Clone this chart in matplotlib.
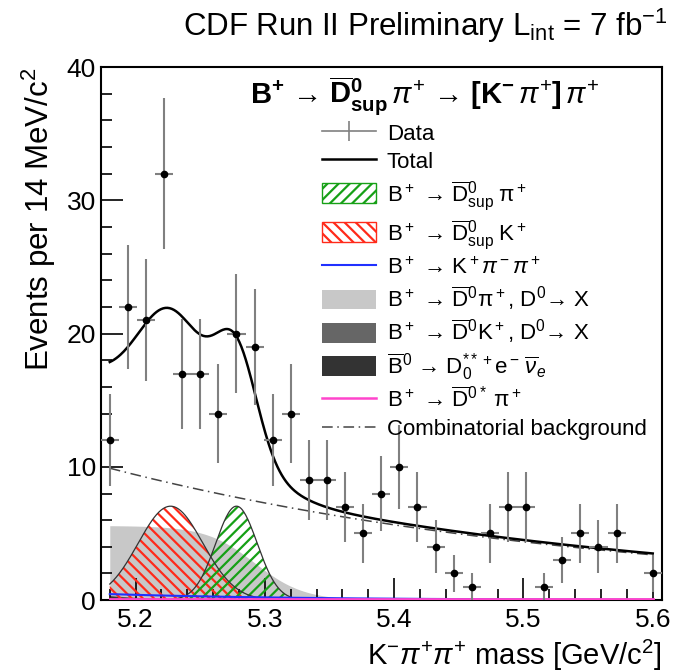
# %%
import numpy as np
import matplotlib.pyplot as plt
from matplotlib.lines import Line2D
from matplotlib.patches import Patch

plt.rcParams['font.family'] = ['Liberation Sans', 'DejaVu Sans']
plt.rcParams['mathtext.fontset'] = 'custom'
plt.rcParams['mathtext.rm'] = 'Liberation Sans'
plt.rcParams['mathtext.it'] = 'Liberation Sans:italic'
plt.rcParams['mathtext.bf'] = 'Liberation Sans:bold'
plt.rcParams['hatch.linewidth'] = 1.6

# %% data: 14 MeV bins, centres from 5.180 to 5.600 GeV/c^2
mass = np.round(5.180 + 0.014 * np.arange(31), 3)
counts = np.array([12, 22, 21, 32, 17, 17, 14, 20, 19, 12,
                   14, 9, 9, 7, 5, 8, 10, 7, 4, 2,
                   1, 5, 7, 7, 1, 3, 5, 4, 5, 0, 2])

# fit components, parameters
dpi_sup = dict(mean=5.278, sigma=0.016, height=7.05)     # B+ -> D0bar_sup pi+
dk_sup = dict(mean=5.227, sigma=0.025, height=7.05)      # B+ -> D0bar_sup K+
comb = dict(start=9.9, slope=-2.55)                      # exponential, value at 5.18
dpi_x = dict(plateau=5.6, edge=5.292, width=0.019)       # B+ -> D0bar pi+, D0 -> X
dk_x = dict(start=0.35, decay=0.04)                      # B+ -> D0bar K+, D0 -> X
semilep = dict(start=0.3, decay=0.035)                   # B0bar -> D** e nu
kpipi = dict(start=0.45, decay=0.15)                     # B+ -> K+ pi- pi+
dstar = dict(level=0.08)                                 # B+ -> D0bar* pi+

# %%
m = np.linspace(5.180, 5.600, 500)


def gauss(p):
    return p['height'] * np.exp(-0.5 * ((m - p['mean']) / p['sigma']) ** 2)


def expo(p):
    return p['start'] * np.exp(-(m - 5.180) / p['decay'])


y_dpi_sup = gauss(dpi_sup)
y_dk_sup = gauss(dk_sup)
y_comb = comb['start'] * np.exp(comb['slope'] * (m - 5.180))
y_dpi_x = dpi_x['plateau'] / (1 + np.exp((m - dpi_x['edge']) / dpi_x['width']))
y_dk_x = expo(dk_x)
y_semilep = expo(semilep)
y_kpipi = expo(kpipi)
y_dstar = np.full_like(m, dstar['level'])
total = y_dpi_sup + y_dk_sup + y_comb + y_dpi_x + y_dk_x + y_semilep + y_kpipi + y_dstar

# %%
fig = plt.figure(figsize=(6.76, 6.72), dpi=100)
ax = fig.add_axes([0.149, 0.107, 0.830, 0.793])

ax.fill_between(m, y_dpi_x, color='#c8c8c8', lw=0, zorder=1)
ax.fill_between(m, y_dk_x, color='#666666', lw=0, zorder=1.1)
ax.fill_between(m, y_semilep, color='#333333', lw=0, zorder=1.2)

ax.fill_between(m, y_dk_sup, facecolor='none', edgecolor='#ff2a1a', hatch='\\\\\\', lw=0, zorder=2)
ax.fill_between(m, y_dpi_sup, facecolor='none', edgecolor='#16a016', hatch='///', lw=0, zorder=2)
ax.plot(m, y_dk_sup, color='#333333', lw=0.9, zorder=2.1)
ax.plot(m, y_dpi_sup, color='#333333', lw=0.9, zorder=2.1)

ax.plot(m, y_kpipi, color='#2030ff', lw=1.5, zorder=3)
ax.plot(m, y_dstar, color='#ff44cc', lw=2.0, zorder=3)
ax.plot(m, y_comb, color='#444444', lw=1.1, ls=(0, (7, 3, 1, 3)), zorder=3)
ax.plot(m, total, color='black', lw=1.8, zorder=4)

shown = counts > 0
ax.errorbar(mass[shown], counts[shown], yerr=np.sqrt(counts[shown]), xerr=0.007,
            fmt='o', color='black', ms=4.5, ecolor='#808080', elinewidth=1.5,
            capsize=0, zorder=5)

ax.set_xlim(5.173, 5.607)
ax.set_ylim(0, 40)
ax.set_xticks([5.2, 5.3, 5.4, 5.5, 5.6])
ax.set_xticks(np.arange(5.18, 5.607, 0.02), minor=True)
ax.set_yticks([0, 10, 20, 30, 40])
ax.set_yticks(np.arange(0, 41, 2), minor=True)
ax.tick_params(which='both', direction='in', labelsize=19, width=1.2)
ax.tick_params(which='major', length=16)
ax.tick_params(which='minor', length=8)
ax.tick_params(axis='x', pad=6)
for s in ax.spines.values():
    s.set_linewidth(1.5)

ax.set_ylabel(r'Events per 14 MeV/c$^2$', fontsize=22.5, loc='top', labelpad=6)
ax.set_xlabel(r'K$^{-}\pi^{+}\pi^{+}$ mass [GeV/c$^2$]', fontsize=21, loc='right')
ax.xaxis.set_label_coords(1.0, -0.07)

fig.text(0.988, 0.962, r'CDF Run II Preliminary L$_{\rm int}$ = 7 fb$^{-1}$',
         ha='right', va='center', fontsize=22.5)
ax.text(0.578, 0.945,
        r'$\mathbf{B}^{\mathbf{+}}$ → $\overline{\mathbf{D}}^{\mathbf{0}}_{\mathbf{sup}}\,\pi^{+}$'
        r' → $\mathbf{[K}^{\mathbf{-}}\,\pi^{+}\mathbf{]}\,\pi^{+}$',
        transform=ax.transAxes, ha='center', va='center', fontsize=21, fontweight='bold')

handles = [
    Line2D([], [], color='#808080', lw=1.2, marker='|', ms=14, mew=1.2),
    Line2D([], [], color='black', lw=1.8),
    Patch(facecolor='none', edgecolor='#16a016', hatch='///'),
    Patch(facecolor='none', edgecolor='#ff2a1a', hatch='\\\\\\'),
    Line2D([], [], color='#2030ff', lw=1.5),
    Patch(facecolor='#c8c8c8', edgecolor='none'),
    Patch(facecolor='#666666', edgecolor='none'),
    Patch(facecolor='#333333', edgecolor='none'),
    Line2D([], [], color='#ff44cc', lw=1.8),
    Line2D([], [], color='#444444', lw=1.1, ls=(0, (7, 3, 1, 3))),
]
labels = [
    'Data',
    'Total',
    r'B$^+$ → $\overline{\rm D}^0_{\rm sup}\;\pi^+$',
    r'B$^+$ → $\overline{\rm D}^0_{\rm sup}\;$K$^+$',
    r'B$^+$ → K$^+\pi^-\pi^+$',
    r'B$^+$ → $\overline{\rm D}^0\pi^+$, D$^0$→ X',
    r'B$^+$ → $\overline{\rm D}^0$K$^+$, D$^0$→ X',
    r'$\overline{\rm B}^0$ → D$^{**+}_0$e$^-\,\overline{\nu}_e$',
    r'B$^+$ → $\overline{\rm D}^{0*}\;\pi^+$',
    'Combinatorial background',
]
ax.legend(handles, labels, loc='upper left', bbox_to_anchor=(0.395, 0.897),
          frameon=False, fontsize=16, handlelength=2.4, handleheight=1.0,
          handletextpad=0.5, labelspacing=0.26, borderaxespad=0, borderpad=0)

fig.savefig('out.png', dpi=100)
